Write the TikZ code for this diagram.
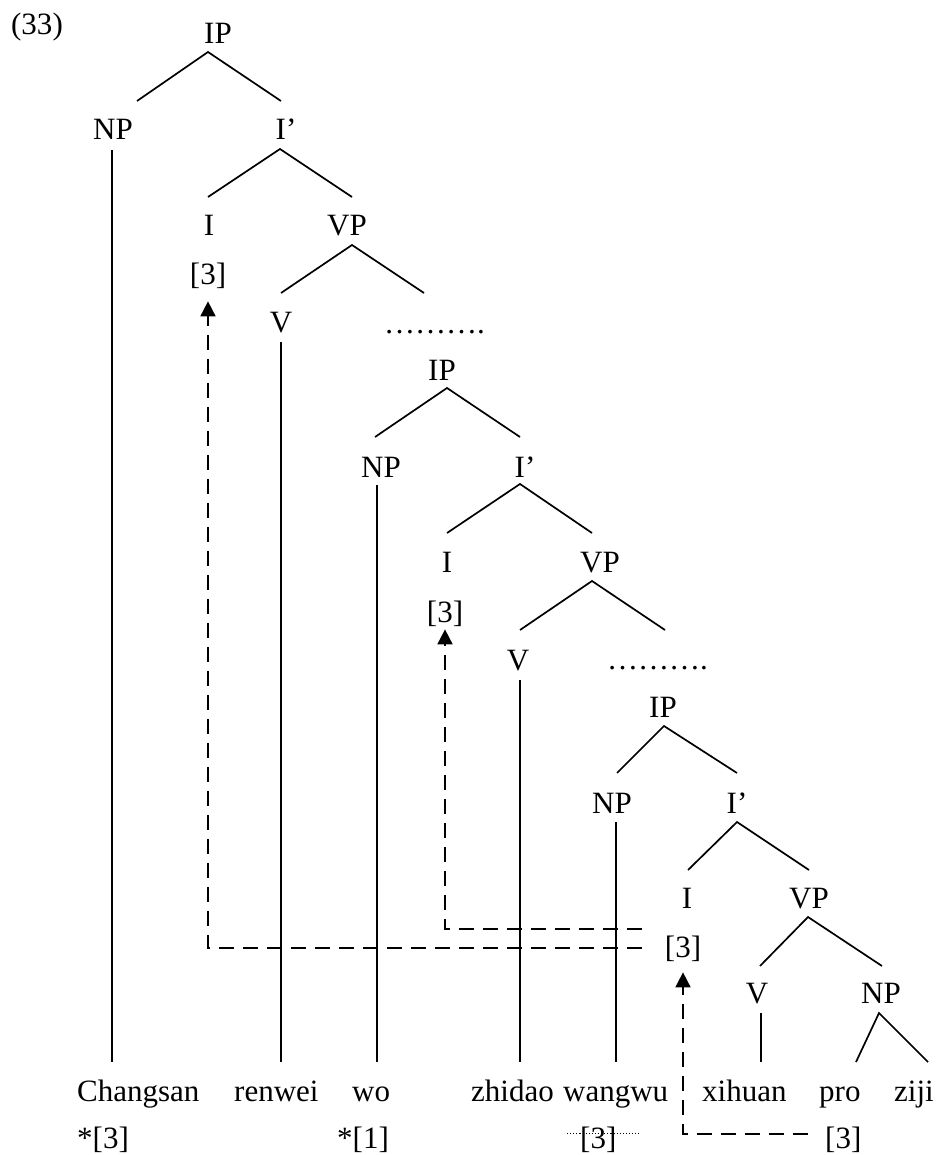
\documentclass[tikz,border=0pt]{standalone}
\usepackage{fontspec}
\setmainfont{Liberation Serif}
\usetikzlibrary{arrows.meta}
\begin{document}
\begin{tikzpicture}[x=1pt,y=-1pt,
  lab/.style={anchor=base,inner sep=0pt,font=\fontsize{31}{37}\selectfont},
  labw/.style={lab,anchor=base west},
  br/.style={line width=1.7pt},
  dsh/.style={line width=1.7pt,dash pattern=on 15pt off 9pt},
  arrowtip/.style={-{Triangle[width=15pt,length=15pt]}},
  dt/.style={line width=1.1pt,dash pattern=on 1.1pt off 2pt}]
\useasboundingbox (0,0) rectangle (939,1155);
% labels
\node[lab] (ex) at (37,35) {(33)};
% tree 1
\node[lab] (ip1) at (218,44) {IP};
\node[lab] (np1) at (113,140) {NP};
\node[lab] (ib1) at (286,140) {I’};
\node[lab] (i1) at (209,236) {I};
\node[lab] (vp1) at (347,236) {VP};
\node[lab] (t1) at (208,285) {[3]};
\node[lab] (v1) at (281,332) {V};
\node[labw] (d1) at (384,333) {……….};
% tree 2
\node[lab] (ip2) at (442,380) {IP};
\node[lab] (np2) at (381,477) {NP};
\node[lab] (ib2) at (525,477) {I’};
\node[lab] (i2) at (447,572) {I};
\node[lab] (vp2) at (600,572) {VP};
\node[lab] (t2) at (445,622) {[3]};
\node[lab] (v2) at (518,670) {V};
\node[labw] (d2) at (607,669) {……….};
% tree 3
\node[lab] (ip3) at (663,717) {IP};
\node[lab] (np3) at (612,813) {NP};
\node[lab] (ib3) at (737,813) {I’};
\node[lab] (i3) at (687,908) {I};
\node[lab] (vp3) at (809,908) {VP};
\node[lab] (t3) at (683,957) {[3]};
\node[lab] (v3) at (757,1003) {V};
\node[lab] (np4) at (881,1003) {NP};
% words
\node[labw] (w1) at (77,1101) {Changsan};
\node[labw] (w2) at (234,1101) {renwei};
\node[labw] (w3) at (352,1101) {wo};
\node[labw] (w4) at (471,1101) {zhidao};
\node[labw] (w5) at (563,1101) {wangwu};
\node[labw] (w6) at (702,1101) {xihuan};
\node[labw] (w7) at (819,1101) {pro};
\node[labw] (w8) at (894,1101) {ziji};
% index row
\node[labw] (s1) at (77,1148) {*[3]};
\node[labw] (s2) at (337,1148) {*[1]};
\node[labw] (s3) at (580,1148) {[3]};
\node[labw] (s4) at (825,1148) {[3]};
% branch points
\coordinate (ip1a) at (208,52);  \coordinate (ip1l) at (137,101); \coordinate (ip1r) at (281,101);
\coordinate (ib1a) at (280,149); \coordinate (ib1l) at (208,197); \coordinate (ib1r) at (352,197);
\coordinate (vp1a) at (352,245); \coordinate (vp1l) at (281,293); \coordinate (vp1r) at (424,293);
\coordinate (np1t) at (112,150); \coordinate (np1b) at (112,1062);
\coordinate (v1t) at (281,342);  \coordinate (v1b) at (281,1062);
\coordinate (ip2a) at (447,388); \coordinate (ip2l) at (375,437); \coordinate (ip2r) at (520,437);
\coordinate (ib2a) at (520,484); \coordinate (ib2l) at (447,533); \coordinate (ib2r) at (592,533);
\coordinate (vp2a) at (592,581); \coordinate (vp2l) at (520,630); \coordinate (vp2r) at (665,630);
\coordinate (np2t) at (377,485); \coordinate (np2b) at (377,1062);
\coordinate (v2t) at (520,680);  \coordinate (v2b) at (520,1062);
\coordinate (ip3a) at (664,726); \coordinate (ip3l) at (617,773); \coordinate (ip3r) at (737,773);
\coordinate (ib3a) at (737,822); \coordinate (ib3l) at (688,870); \coordinate (ib3r) at (809,870);
\coordinate (vp3a) at (808,917); \coordinate (vp3l) at (760,966); \coordinate (vp3r) at (882,966);
\coordinate (np3t) at (616,822); \coordinate (np3b) at (616,1062);
\coordinate (v3t) at (761,1013); \coordinate (v3b) at (761,1062);
\coordinate (np4a) at (879,1013); \coordinate (np4l) at (856,1062); \coordinate (np4r) at (928,1062);
% branches
\foreach \p in {ip1,ib1,vp1,ip2,ib2,vp2,ip3,ib3,vp3,np4}{
  \draw[br] (\p l) -- (\p a) -- (\p r);
}
\foreach \p in {np1,v1,np2,v2,np3,v3}{
  \draw[br] (\p t) -- (\p b);
}
% dashed arrows
\draw[dsh,arrowtip] ([xshift=-23pt]t3.west) -| ([yshift=-12pt]t1.south);
\draw[dsh,arrowtip] ([xshift=-23pt,yshift=19pt]t3.west) -| ([yshift=-3pt]t2.south);
\draw[dsh,arrowtip] ([xshift=-17pt,yshift=5pt]s4.west) -| ([yshift=-11pt]t3.south);
% dotted line through the index under wangwu
\draw[dt] ([xshift=-13pt,yshift=6pt]s3.west) -- ([xshift=22pt,yshift=6pt]s3.east);
\end{tikzpicture}
\end{document}
